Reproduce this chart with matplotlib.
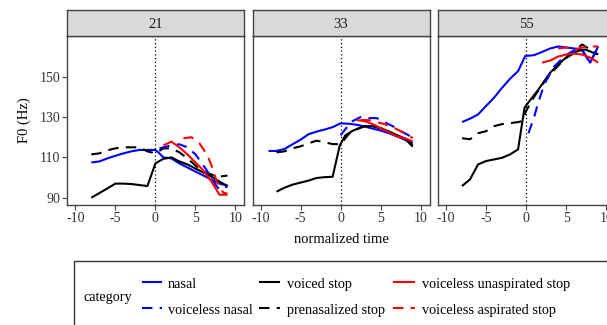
import matplotlib
matplotlib.use("Agg")
import matplotlib.pyplot as plt
from matplotlib.lines import Line2D
from matplotlib.patches import Rectangle

plt.rcParams['font.family'] = ['Liberation Serif', 'DejaVu Serif']

# ---------------- data ----------------
ages = ["21", "33", "55"]
categories = ["nasal", "voiceless nasal", "voiced stop", "prenasalized stop",
              "voiceless unaspirated stop", "voiceless aspirated stop"]
x_ticks = [-10, -5, 0, 5, 10]
y_ticks = [90, 110, 130, 150]

# age 21
a21_nasal_t = [-8, -7, -6, -5, -4, -3, -2, -1, 0, 0.5, 1, 2, 3, 4, 5, 6, 7, 8, 9]
a21_nasal_f0 = [107.5, 108, 109.5, 110.8, 112, 113, 113.7, 113.7, 113.7, 112, 110, 109.5, 107, 105, 103, 101, 99, 97, 96]
a21_vlnasal_t = [0.5, 1, 2, 3, 4, 5, 6, 7, 7.5, 8, 8.5, 9]
a21_vlnasal_f0 = [114.5, 115, 116, 116.5, 115, 111.5, 106, 100, 96.5, 94, 95, 95.5]
a21_voiced_t = [-8, -7, -6, -5, -4, -3, -2, -1, 0, 0.5, 1, 2, 3, 4, 5, 6, 7, 8, 9]
a21_voiced_f0 = [90, 92.3, 94.6, 97, 97, 96.8, 96.3, 95.8, 107, 108.2, 109.3, 110, 108, 106.5, 104.5, 102.5, 100.5, 98, 95.8]
a21_prenas_t = [-8, -7, -6, -5, -4, -3, -2, -1, 0, 1, 2, 3, 4, 5, 6, 7, 8, 9]
a21_prenas_f0 = [111.5, 112, 113.5, 114.5, 115, 115, 115, 113, 112, 114.5, 114.5, 112.5, 109.5, 106, 103, 101.5, 100.5, 101]
a21_unasp_t = [1, 2, 3, 4, 5, 6, 7, 8, 9]
a21_unasp_f0 = [116, 117.8, 115, 111.5, 107.5, 103.5, 98, 91.5, 91.5]
a21_asp_t = [3.5, 4.5, 5.5, 6, 6.5, 7, 7.5, 8, 8.5, 9]
a21_asp_f0 = [119.5, 120, 117, 114, 111, 106, 100, 95, 92.5, 92]

# age 33
a33_nasal_t = [-9, -8, -7, -6, -5, -4, -3, -2, -1, 0, 1, 2, 3, 4, 5, 6, 7, 8, 9]
a33_nasal_f0 = [113.2, 113.2, 114.2, 116.5, 118.8, 121.5, 122.8, 123.8, 125, 126.9, 126.7, 126.2, 125.3, 124.3, 123.3, 122, 120.5, 118.8, 117]
a33_vlnasal_t = [0, 0.7, 1.5, 2.5, 3.5, 4.5, 5.5, 6.5, 7.5, 8.5, 9]
a33_vlnasal_f0 = [121, 124.5, 128, 130, 129.5, 129.5, 127.5, 125.5, 123, 121, 118]
a33_voiced_t = [-8, -7, -6, -5, -4, -3, -2, -1, -0.1, 0.6, 1.5, 2, 3, 4, 5, 6, 7, 8, 9]
a33_voiced_f0 = [93, 95, 96.5, 97.5, 98.5, 99.8, 100.2, 100.4, 116, 121, 123.2, 124, 125.5, 125.5, 124.5, 123, 121, 119.5, 115.3]
a33_prenas_t = [-8, -7, -6, -5, -4, -3, -2, -1, 0, 1, 2, 3, 4, 5, 6, 7, 8, 9]
a33_prenas_f0 = [112.5, 113, 114.5, 115.5, 117, 118.3, 117.5, 116.6, 116.6, 121.5, 124, 125.5, 125.5, 124.5, 122.5, 121, 119.5, 116]
a33_unasp_t = [2, 3, 4, 5, 6, 7, 8, 9]
a33_unasp_f0 = [128.5, 128, 126.5, 124.5, 122.5, 120.5, 119.5, 118]
a33_asp_t = [2.5, 3.5, 4.5, 5.5, 6.5, 7.5, 8.5, 9]
a33_asp_f0 = [128.5, 128.5, 127.5, 126.5, 125, 123, 121, 119.5]

# age 55
a55_nasal_t = [-8, -7, -6, -5, -4, -3, -2, -1, -0.1, 1, 2, 3, 4, 5, 6, 7, 7.5, 8, 8.5, 9]
a55_nasal_f0 = [127.5, 129.2, 131.3, 135.5, 139.6, 144.5, 149, 152.8, 160.3, 160.7, 162.3, 164, 165, 164.5, 164, 163.5, 160, 157, 161, 165]
a55_vlnasal_t = [0.3, 1, 1.5, 2, 2.5, 3.5, 4.5, 5.5, 6.5, 7, 8, 8.5, 9]
a55_vlnasal_f0 = [122, 130, 137, 143, 148, 155, 159, 162, 164, 163, 157, 161, 165]
a55_voiced_t = [-8, -7, -6, -5, -4, -3, -2, -1, -0.2, 0.1, 1.4, 3, 4.7, 6.4, 7.4, 8.9]
a55_voiced_f0 = [95.8, 99.1, 106.5, 108.2, 109, 109.8, 111.5, 114, 134.6, 136.3, 142.9, 152, 158.6, 162.7, 163.5, 161.1]
a55_prenas_t = [-8, -7, -6, -5, -4, -3, -2, -1, -0.5, 0, 1, 2, 3, 4, 5, 6, 7, 8, 9]
a55_prenas_f0 = [119.5, 119, 122, 123, 125.5, 126.5, 127, 127.5, 128, 133, 140, 146, 151, 155.5, 159.5, 163, 166, 163.5, 161]
a55_unasp_t = [2, 3, 4, 5, 6, 7, 8, 9]
a55_unasp_f0 = [157, 158, 160, 161, 161.5, 161, 159.5, 157]
a55_asp_t = [4, 5, 6, 7, 8, 9]
a55_asp_f0 = [164, 164.5, 163.5, 164.5, 165, 165]

panels = {
    "21": [(a21_nasal_t, a21_nasal_f0), (a21_vlnasal_t, a21_vlnasal_f0),
           (a21_voiced_t, a21_voiced_f0), (a21_prenas_t, a21_prenas_f0),
           (a21_unasp_t, a21_unasp_f0), (a21_asp_t, a21_asp_f0)],
    "33": [(a33_nasal_t, a33_nasal_f0), (a33_vlnasal_t, a33_vlnasal_f0),
           (a33_voiced_t, a33_voiced_f0), (a33_prenas_t, a33_prenas_f0),
           (a33_unasp_t, a33_unasp_f0), (a33_asp_t, a33_asp_f0)],
    "55": [(a55_nasal_t, a55_nasal_f0), (a55_vlnasal_t, a55_vlnasal_f0),
           (a55_voiced_t, a55_voiced_f0), (a55_prenas_t, a55_prenas_f0),
           (a55_unasp_t, a55_unasp_f0), (a55_asp_t, a55_asp_f0)],
}

colors = ["#0000ff", "#0000ff", "#000000", "#000000", "#ff0000", "#ff0000"]
dashed = [False, True, False, True, False, True]
# plotting order (drawn back to front)
draw_order = [0, 2, 3, 1, 4, 5]

# ---------------- layout ----------------
W, H = 607, 325
fig = plt.figure(figsize=(W / 100, H / 100), dpi=100)
fig.patch.set_facecolor("white")

def fx(px):
    return px / W

def fy(py):
    return 1 - py / H

panel_left = [67.3, 252.5, 438.0]
panel_w = 177.0
top_px, bot_px = 36, 205
strip_top = 10
border_col = "#444444"
xlim = (-11, 11.1)
ylim = (86.4, 170.2)
lw = 1.5
dash_pat = (5, 3.5)
tick_fs = 10
title_fs = 10.5
legend_fs = 10.3

for i, age in enumerate(ages):
    l = panel_left[i]
    ax = fig.add_axes([fx(l), fy(bot_px), panel_w / W, (bot_px - top_px) / H])
    ax.set_xlim(*xlim)
    ax.set_ylim(*ylim)
    ax.axvline(0, color="black", lw=0.9, ls=(0, (1, 2)), zorder=1)
    series = panels[age]
    for k in draw_order:
        t, f0 = series[k]
        ln, = ax.plot(t, f0, color=colors[k], lw=lw, zorder=2,
                      solid_capstyle="butt", dash_capstyle="butt")
        if dashed[k]:
            ln.set_dashes(dash_pat)
    for s in ax.spines.values():
        s.set_color(border_col)
        s.set_linewidth(1.0)
    ax.set_xticks(x_ticks)
    ax.set_xticklabels([str(v) for v in x_ticks])
    ax.tick_params(axis="both", direction="out", length=3.5, width=0.8,
                   color=border_col, labelcolor="#333333", labelsize=tick_fs, pad=1.5)
    if i == 0:
        ax.set_yticks(y_ticks)
        ax.set_yticklabels([str(v) for v in y_ticks])
        ax.set_ylabel("F0 (Hz)", fontsize=title_fs, color="black", labelpad=6)
    else:
        ax.set_yticks(y_ticks)
        ax.tick_params(axis="y", left=False, labelleft=False)
    if i == 1:
        ax.set_xlabel("normalized time", fontsize=title_fs, color="black", labelpad=6)

    # strip
    sax = fig.add_axes([fx(l), fy(top_px), panel_w / W, (top_px - strip_top) / H])
    sax.set_facecolor("#d9d9d9")
    sax.set_xticks([])
    sax.set_yticks([])
    for s in sax.spines.values():
        s.set_color(border_col)
        s.set_linewidth(1.0)
    sax.text(0.5, 0.45, age, ha="center", va="center", fontsize=title_fs,
             color="#1a1a1a", transform=sax.transAxes)

# ---------------- legend ----------------
fig.patches.append(Rectangle((fx(74), fy(340)), fx(560), (340 - 261) / H,
                             transform=fig.transFigure, facecolor="white",
                             edgecolor="#333333", lw=1.0))
fig.text(fx(83), fy(298), "category", ha="left", va="center", fontsize=legend_fs)

key_x = [(142, 162), (259, 280), (393, 415)]
text_x = [168, 287, 422]
row_line_y = [282, 308]
row_text_y = [284.5, 310.5]
for k, name in enumerate(categories):
    col, row = k // 2, k % 2
    x0, x1 = key_x[col]
    ln = Line2D([fx(x0), fx(x1)], [fy(row_line_y[row])] * 2, transform=fig.transFigure,
                color=colors[k], lw=lw, solid_capstyle="butt", dash_capstyle="butt")
    if dashed[k]:
        ln.set_dashes(dash_pat)
    fig.lines.append(ln)
    fig.text(fx(text_x[col]), fy(row_text_y[row]), name, ha="left", va="center",
             fontsize=legend_fs)

fig.savefig("out.png", dpi=100)
